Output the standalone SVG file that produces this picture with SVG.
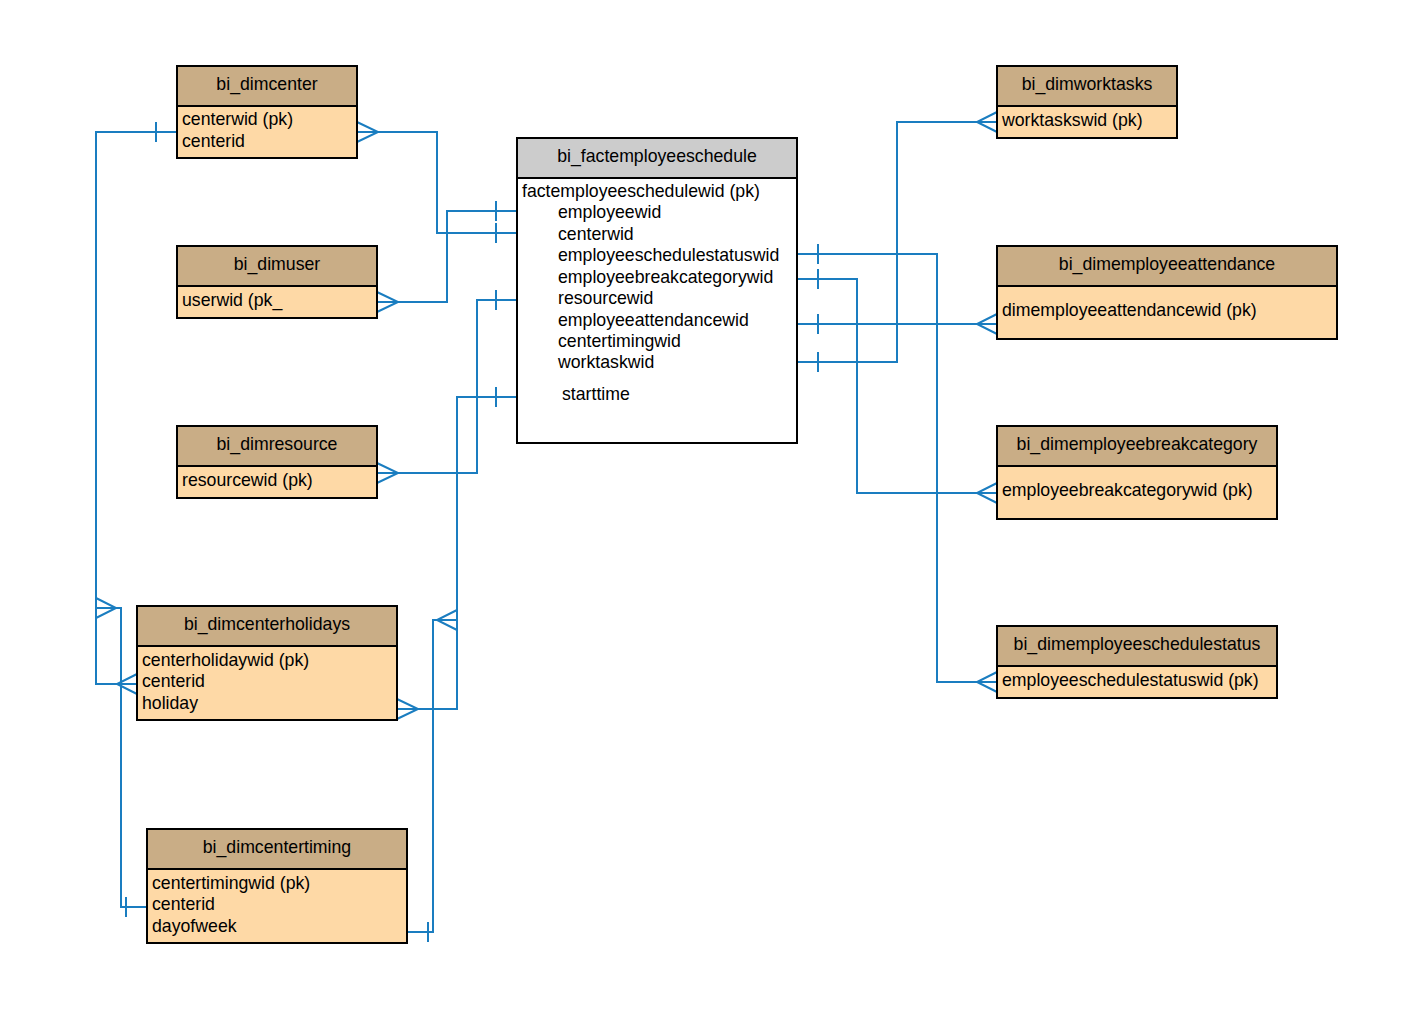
<svg xmlns="http://www.w3.org/2000/svg" width="1421" height="1010" viewBox="0 0 1421 1010">
<style>
.hd{fill:#c9ad86;stroke:#000;stroke-width:2}
.bd{fill:#fed9a6;stroke:#000;stroke-width:2}
.fh{fill:#cccccc;stroke:#000;stroke-width:2}
.fb{fill:#ffffff;stroke:#000;stroke-width:2}
text{font-family:"Liberation Sans",Arial,sans-serif;font-size:17.7px;fill:#000}
.c{text-anchor:middle}
.ln{fill:none;stroke:#1a7dc0;stroke-width:2}
</style>
<rect width="1421" height="1010" fill="#fff"/>
<g id="connectors" class="ln">
<polyline points="357,132 437,132 437,233 517,233"/>
<polyline points="357,122 378,132 357,142"/>
<line x1="496" y1="223" x2="496" y2="243"/>
<polyline points="377,302 447,302 447,211 517,211"/>
<polyline points="377,292 398,302 377,312"/>
<line x1="496" y1="201" x2="496" y2="221"/>
<polyline points="377,473 477,473 477,300 517,300"/>
<polyline points="377,463 398,473 377,483"/>
<line x1="496" y1="290" x2="496" y2="310"/>
<polyline points="517,397 457,397 457,709 397,709"/>
<polyline points="397,699 418,709 397,719"/>
<line x1="496" y1="387" x2="496" y2="407"/>
<polyline points="407,932 433,932 433,620 457,620"/>
<polyline points="457,610 437,620 457,630"/>
<line x1="428" y1="922" x2="428" y2="942"/>
<polyline points="177,132 96,132 96,684 137,684"/>
<line x1="156" y1="122" x2="156" y2="142"/>
<polyline points="137,674 117,684 137,694"/>
<polyline points="147,907 121,907 121,608 96,608"/>
<polyline points="96,598 116,608 96,618"/>
<line x1="126" y1="897" x2="126" y2="917"/>
<polyline points="797,254 937,254 937,682 997,682"/>
<polyline points="997,672 977,682 997,692"/>
<line x1="818" y1="244" x2="818" y2="264"/>
<polyline points="797,279 857,279 857,493 997,493"/>
<polyline points="997,483 977,493 997,503"/>
<line x1="818" y1="269" x2="818" y2="289"/>
<polyline points="797,324 997,324"/>
<polyline points="997,314 977,324 997,334"/>
<line x1="818" y1="314" x2="818" y2="334"/>
<polyline points="797,362 897,362 897,122 997,122"/>
<polyline points="997,112 977,122 997,132"/>
<line x1="818" y1="352" x2="818" y2="372"/>
</g>
<g id="bi_dimcenter">
<rect class="bd" x="177" y="66" width="180" height="92"/>
<rect class="hd" x="177" y="66" width="180" height="40"/>
<text class="c" x="267" y="90">bi_dimcenter</text>
<text x="182" y="125">centerwid (pk)</text>
<text x="182" y="147">centerid</text>
</g>
<g id="bi_dimuser">
<rect class="bd" x="177" y="246" width="200" height="72"/>
<rect class="hd" x="177" y="246" width="200" height="40"/>
<text class="c" x="277" y="270">bi_dimuser</text>
<text x="182" y="306">userwid (pk_</text>
</g>
<g id="bi_dimresource">
<rect class="bd" x="177" y="426" width="200" height="72"/>
<rect class="hd" x="177" y="426" width="200" height="40"/>
<text class="c" x="277" y="450">bi_dimresource</text>
<text x="182" y="486">resourcewid (pk)</text>
</g>
<g id="bi_dimcenterholidays">
<rect class="bd" x="137" y="606" width="260" height="114"/>
<rect class="hd" x="137" y="606" width="260" height="40"/>
<text class="c" x="267" y="630">bi_dimcenterholidays</text>
<text x="142" y="666">centerholidaywid (pk)</text>
<text x="142" y="687">centerid</text>
<text x="142" y="709">holiday</text>
</g>
<g id="bi_dimcentertiming">
<rect class="bd" x="147" y="829" width="260" height="114"/>
<rect class="hd" x="147" y="829" width="260" height="40"/>
<text class="c" x="277" y="853">bi_dimcentertiming</text>
<text x="152" y="889">centertimingwid (pk)</text>
<text x="152" y="910">centerid</text>
<text x="152" y="932">dayofweek</text>
</g>
<g id="bi_factemployeeschedule">
<rect class="fb" x="517" y="138" width="280" height="305"/>
<rect class="fh" x="517" y="138" width="280" height="40"/>
<text class="c" x="657" y="162">bi_factemployeeschedule</text>
<text x="522" y="197">factemployeeschedulewid (pk)</text>
<text x="558" y="218">employeewid</text>
<text x="558" y="240">centerwid</text>
<text x="558" y="261">employeeschedulestatuswid</text>
<text x="558" y="283">employeebreakcategorywid</text>
<text x="558" y="304">resourcewid</text>
<text x="558" y="326">employeeattendancewid</text>
<text x="558" y="347">centertimingwid</text>
<text x="558" y="368">worktaskwid</text>
<text x="562" y="400">starttime</text>
</g>
<g id="bi_dimworktasks">
<rect class="bd" x="997" y="66" width="180" height="72"/>
<rect class="hd" x="997" y="66" width="180" height="40"/>
<text class="c" x="1087" y="90">bi_dimworktasks</text>
<text x="1002" y="126">worktaskswid (pk)</text>
</g>
<g id="bi_dimemployeeattendance">
<rect class="bd" x="997" y="246" width="340" height="93"/>
<rect class="hd" x="997" y="246" width="340" height="40"/>
<text class="c" x="1167" y="270">bi_dimemployeeattendance</text>
<text x="1002" y="316">dimemployeeattendancewid (pk)</text>
</g>
<g id="bi_dimemployeebreakcategory">
<rect class="bd" x="997" y="426" width="280" height="93"/>
<rect class="hd" x="997" y="426" width="280" height="40"/>
<text class="c" x="1137" y="450">bi_dimemployeebreakcategory</text>
<text x="1002" y="496">employeebreakcategorywid (pk)</text>
</g>
<g id="bi_dimemployeeschedulestatus">
<rect class="bd" x="997" y="626" width="280" height="72"/>
<rect class="hd" x="997" y="626" width="280" height="40"/>
<text class="c" x="1137" y="650">bi_dimemployeeschedulestatus</text>
<text x="1002" y="686">employeeschedulestatuswid (pk)</text>
</g>
</svg>
